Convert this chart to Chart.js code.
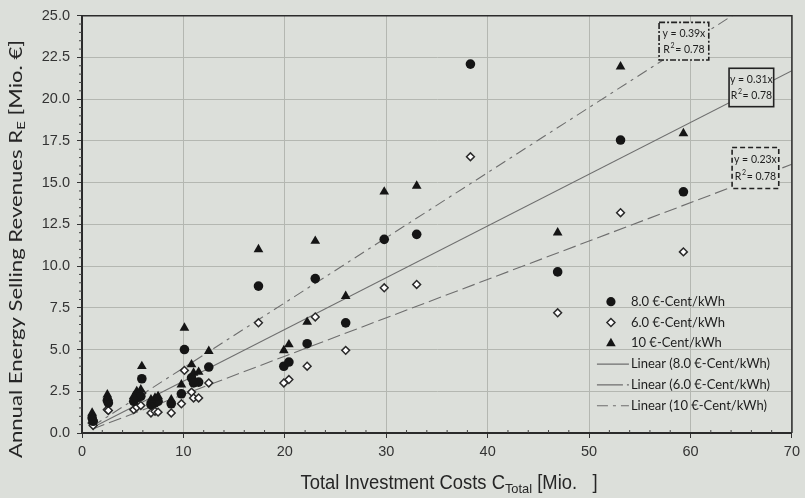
<!DOCTYPE html>
<html><head><meta charset="utf-8">
<script src="https://cdn.jsdelivr.net/npm/chart.js@4.4.1/dist/chart.umd.min.js"></script>
<style>html,body{margin:0;padding:0;background:#dcdfda;}#wrap{width:805px;height:498px;position:relative;}</style>
</head><body><div id="wrap"><canvas id="c"></canvas></div>
<script>
// ---- data ----
const investCosts = [1.0,1.1,2.5,2.6,5.1,5.4,5.8,5.9,6.8,7.2,7.5,8.8,9.8,10.1,10.8,11.0,11.5,12.5,17.4,19.9,20.4,22.2,23.0,26.0,29.8,33.0,38.3,46.9,53.1,59.3];
const rev8  = [0.9,0.7,1.95,1.8,1.9,2.1,2.2,3.25,1.7,1.8,1.9,1.75,2.35,5.0,3.3,3.0,3.05,3.95,8.8,4.0,4.25,5.35,9.25,6.6,11.6,11.9,22.1,9.65,17.55,14.45];
const rev6  = [0.6,0.45,1.4,1.35,1.4,1.55,1.65,2.4,1.2,1.3,1.25,1.2,1.75,3.75,2.45,2.1,2.1,3.0,6.6,3.0,3.2,4.0,6.95,4.95,8.7,8.9,16.55,7.2,13.2,10.85];
const rev10 = [1.2,0.9,2.3,2.1,2.2,2.5,2.6,4.0,2.0,2.1,2.2,2.0,2.9,6.3,4.1,3.6,3.65,4.9,11.0,4.95,5.3,6.65,11.5,8.2,14.45,14.8,null,12.0,21.95,17.95];
const trend8X = [1.0, 70.0], trend8Y = [0.31, 21.7];
const trend6X = [1.0, 70.0], trend6Y = [0.23, 16.1];
const trend10X = [1.0, 64.1], trend10Y = [0.39, 25.0];
const seriesLabels = ['8.0 €-Cent/kWh','6.0 €-Cent/kWh','10 €-Cent/kWh','Linear (8.0 €-Cent/kWh)','Linear (6.0 €-Cent/kWh)','Linear (10 €-Cent/kWh)'];
const eqLabels = ['y = 0.39x','y = 0.31x','y = 0.23x'];
const r2Labels = ['0.78','0.78','0.78'];
const xTicks = [0,10,20,30,40,50,60,70];
const yTicks = [0,2.5,5,7.5,10,12.5,15,17.5,20,22.5,25];

// ---- styles ----
const BG = '#dcdfda', INK = '#151515', LINE = '#6e6e6e';
const pts = (xs, ys) => xs.map((x,i)=>({x:x, y:ys[i]}));

const ds = [
  {label:seriesLabels[0], data:pts(investCosts,rev8), pointStyle:'circle', pointRadius:4.8, backgroundColor:INK, borderColor:INK, borderWidth:0, order:1},
  {label:seriesLabels[1], data:pts(investCosts,rev6), pointStyle:'rectRot', pointRadius:3.9, backgroundColor:'#ffffff', borderColor:'#2a2a2a', borderWidth:1.5, order:2},
  {label:seriesLabels[2], data:pts(investCosts,rev10), pointStyle:'triangle', pointRadius:5.6, backgroundColor:INK, borderColor:INK, borderWidth:0, order:0},
  {label:seriesLabels[3], data:pts(trend8X,trend8Y), showLine:true, pointRadius:0, borderColor:LINE, borderWidth:1.1, order:5},
  {label:seriesLabels[4], data:pts(trend6X,trend6Y), showLine:true, pointRadius:0, borderColor:LINE, borderWidth:1.1, borderDash:[13,5], order:5},
  {label:seriesLabels[5], data:pts(trend10X,trend10Y), showLine:true, pointRadius:0, borderColor:LINE, borderWidth:1.1, borderDash:[11,5,3,5], order:5}
];

// draws text with subscripts at a given font size, stretched along its direction to a target width
function richText(ctx, parts, cx, cy, family, size, targetW){
  const sub=size*0.7;
  let w=0;
  parts.forEach(p=>{ctx.font=(p.sub?sub:size)+'px '+family; p.w=ctx.measureText(p.t).width; w+=p.w;});
  const k=targetW/w;
  ctx.save(); ctx.translate(cx,cy); ctx.scale(k,1);
  let x=-w/2;
  ctx.textBaseline='middle'; ctx.textAlign='left';
  parts.forEach(p=>{ctx.font=(p.sub?sub:size)+'px '+family; ctx.fillText(p.t,x,(p.sub?size*0.25:0)); x+=p.w;});
  ctx.restore();
}

const deco = {
  id:'deco',
  beforeDraw(chart){
    const c=chart.ctx; c.save(); c.fillStyle=BG; c.fillRect(0,0,chart.width,chart.height); c.restore();
  },
  afterDatasetsDraw(chart){
    const c=chart.ctx, a=chart.chartArea, xs=chart.scales.x, ys=chart.scales.y;
    c.save();
    // frame
    c.strokeStyle='#2b2b2b'; c.lineWidth=1.5;
    c.beginPath(); c.moveTo(a.left,a.top); c.lineTo(a.right,a.top); c.lineTo(a.right,a.bottom); c.stroke();
    // minor ticks
    c.lineWidth=1; c.strokeStyle='#444';
    for(let v=0; v<=70.001; v+=2){ if(v%10===0) continue; const px=xs.getPixelForValue(v); c.beginPath(); c.moveTo(px,a.bottom-3); c.lineTo(px,a.bottom); c.stroke(); }
    for(let v=0; v<=25.001; v+=0.5){ if(Math.abs(v/2.5-Math.round(v/2.5))<1e-6) continue; const py=ys.getPixelForValue(v); c.beginPath(); c.moveTo(a.left-3,py); c.lineTo(a.left,py); c.stroke(); }
    // equation boxes
    const boxes=[{x0:56.9,x1:61.8,y0:24.6,y1:22.35,dash:[6,2,2,2]},{x0:63.8,x1:68.2,y0:21.85,y1:19.55,dash:[]},{x0:64.1,x1:68.7,y0:17.1,y1:14.65,dash:[5,3]}];
    boxes.forEach((b,i)=>{
      const l=xs.getPixelForValue(b.x0), r=xs.getPixelForValue(b.x1), t=ys.getPixelForValue(b.y0), bt=ys.getPixelForValue(b.y1);
      c.fillStyle=BG; c.fillRect(l,t,r-l,bt-t);
      c.setLineDash(b.dash); c.strokeStyle='#222'; c.lineWidth=1.6; c.strokeRect(l,t,r-l,bt-t); c.setLineDash([]);
      c.fillStyle='#1e1e1e'; c.font='10.5px Lato, "Open Sans", sans-serif'; c.textAlign='center'; c.textBaseline='middle';
      const cx=(l+r)/2;
      c.fillText(eqLabels[i],cx,t+(bt-t)*0.3);
      const rt='R  = '+r2Labels[i]; const w=c.measureText(rt).width;
      c.textAlign='left'; c.fillText(rt,cx-w/2,t+(bt-t)*0.72);
      c.font='7px Lato, sans-serif'; c.fillText('2',cx-w/2+7.3,t+(bt-t)*0.72-4);
    });
    // legend
    const mx=a.right-181, tx=a.right-161, lx0=a.right-195, lx1=a.right-163;
    seriesLabels.forEach((lab,i)=>{
      const y=a.top+286+i*20.8;
      c.fillStyle=INK; c.strokeStyle='#2a2a2a';
      if(i===0){c.beginPath(); c.arc(mx,y,4.6,0,Math.PI*2); c.fill();}
      else if(i===1){c.fillStyle='#fff'; c.lineWidth=1.5; c.beginPath(); c.moveTo(mx,y-4); c.lineTo(mx+4,y); c.lineTo(mx,y+4); c.lineTo(mx-4,y); c.closePath(); c.fill(); c.stroke();}
      else if(i===2){c.beginPath(); c.moveTo(mx,y-5.5); c.lineTo(mx+4.8,y+3); c.lineTo(mx-4.8,y+3); c.closePath(); c.fill();}
      else { c.strokeStyle=LINE; c.lineWidth=1.1; c.setLineDash(i===5?[11,5,3,5]:(i===4?[26,4]:[])); c.beginPath(); c.moveTo(lx0,y); c.lineTo(lx1,y); c.stroke(); c.setLineDash([]); }
      c.fillStyle='#1e1e1e'; c.font='13px Lato, "Open Sans", sans-serif'; c.textAlign='left'; c.textBaseline='middle';
      c.fillText(lab,tx,y);
    });
    // axis titles
    c.fillStyle='#262626';
    richText(c,[{t:'Total Investment Costs C'},{t:'Total',sub:true},{t:' [Mio.   ]'}], 449, 484, '"Liberation Sans", Arial, sans-serif', 19.5, 297);
    c.save(); c.translate(17,249); c.rotate(-Math.PI/2);
    richText(c,[{t:'Annual Energy Selling Revenues R'},{t:'E',sub:true},{t:' [Mio. €]'}], 0, 0, 'Lato, "Open Sans", sans-serif', 17, 418);
    c.restore();
    c.restore();
  }
};

new Chart(document.getElementById('c'), {
  type:'scatter',
  data:{datasets:ds},
  options:{
    responsive:true, maintainAspectRatio:false, animation:false,
    layout:{padding:{left:0,top:13,right:8,bottom:0}},
    plugins:{legend:{display:false}, tooltip:{enabled:false}},
    scales:{
      x:{type:'linear', min:0, max:70,
         afterBuildTicks:s=>{s.ticks=xTicks.map(v=>({value:v}));},
         afterFit:s=>{s.height=65;},
         grid:{color:'#b4b7b1', lineWidth:1, tickLength:5, tickColor:'#333', drawTicks:true},
         border:{color:'#2b2b2b', width:2},
         ticks:{color:'#333', padding:5, font:{family:'"Liberation Sans", Arial, sans-serif', size:14.5}, callback:v=>String(v)}},
      y:{type:'linear', min:0, max:25,
         afterBuildTicks:s=>{s.ticks=yTicks.map(v=>({value:v}));},
         afterFit:s=>{s.width=82;},
         grid:{color:'#b4b7b1', lineWidth:1, tickLength:5, tickColor:'#333'},
         border:{color:'#2b2b2b', width:2},
         ticks:{color:'#333', padding:7, font:{family:'"Liberation Sans", Arial, sans-serif', size:14.5}, callback:v=>Number(v).toFixed(1)}}
    }
  },
  plugins:[deco]
});
</script></body></html>
